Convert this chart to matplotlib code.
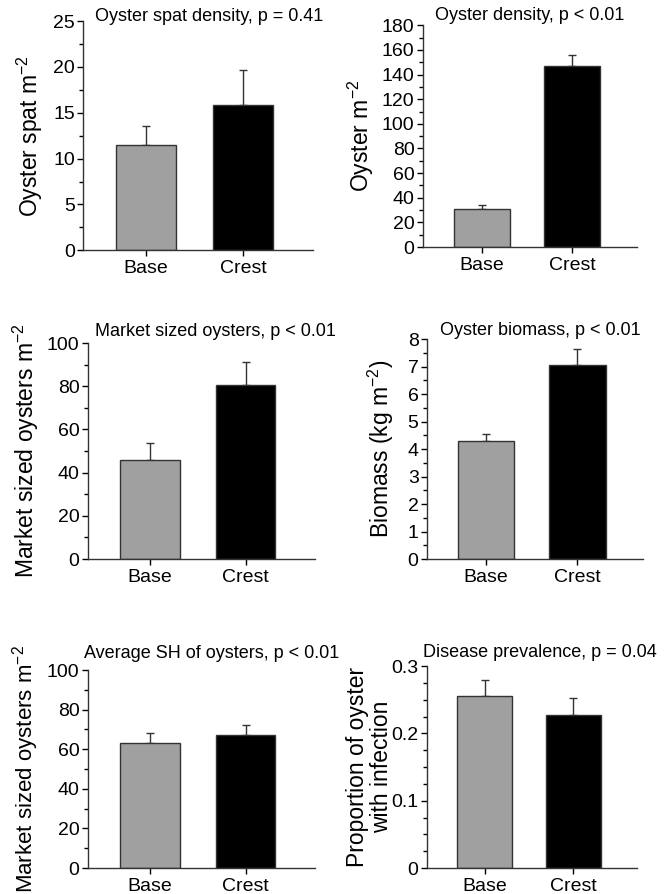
import matplotlib
matplotlib.use("Agg")
from matplotlib import pyplot as plt
from matplotlib.ticker import MultipleLocator, FormatStrFormatter

plt.rcParams['font.family'] = ['Liberation Sans', 'DejaVu Sans']
plt.rcParams['mathtext.fontset'] = 'custom'
plt.rcParams['mathtext.rm'] = 'Liberation Sans'

groups = ['Base', 'Crest']

spat_mean = [11.5, 15.8]
spat_err = [2.0, 3.9]
density_mean = [31, 147]
density_err = [3, 9]
market_mean = [46, 80.5]
market_err = [7.5, 10.5]
biomass_mean = [4.28, 7.05]
biomass_err = [0.27, 0.6]
sh_mean = [63, 67]
sh_err = [5, 5]
disease_mean = [0.255, 0.228]
disease_err = [0.024, 0.024]

colors = ['#a0a0a0', '#000000']

# rect, means, errs, ymax, major, minor, ylabel, label size, labelpad, title, title x, title y, title ha
panels = [
	([0.125, 0.720, 0.346, 0.2565], spat_mean, spat_err, 25, 5, 2.5,
	 'Oyster spat m$^{-2}$', 16.5, 6, 'Oyster spat density, p = 0.41', 0.05, 1.02, 'left'),
	([0.636, 0.7237, 0.322, 0.248], density_mean, density_err, 180, 20, 10,
	 'Oyster m$^{-2}$', 16.5, 4, 'Oyster density, p < 0.01', 0.5, 1.045, 'center'),
	([0.132, 0.3747, 0.341, 0.2416], market_mean, market_err, 100, 20, 10,
	 'Market sized oysters m$^{-2}$', 16.5, 4, 'Market sized oysters, p < 0.01', 0.03, 1.055, 'left'),
	([0.642, 0.3747, 0.325, 0.246], biomass_mean, biomass_err, 8, 1, 0.5,
	 'Biomass (kg m$^{-2}$)', 16.5, 8, 'Oyster biomass, p < 0.01', 0.06, 1.04, 'left'),
	([0.132, 0.029, 0.341, 0.2215], sh_mean, sh_err, 100, 20, 10,
	 'Market sized oysters m$^{-2}$', 16, 4, 'Average SH of oysters, p < 0.01', -0.015, 1.085, 'left'),
	([0.642, 0.029, 0.316, 0.226], disease_mean, disease_err, 0.3, 0.1, 0.025,
	 'Proportion of oyster\nwith infection', 16.5, -1, 'Disease prevalence, p = 0.04', -0.02, 1.065, 'left'),
]

fig = plt.figure(figsize=(6.65, 8.94), dpi=100)

for (rect, means, errs, ymax, major, minor, ylabel, lsize, lpad,
		title, tx, ty, tha) in panels:
	ax = fig.add_axes(rect)
	x = [0, 1]
	ax.bar(x, means, width=0.62, color=colors, edgecolor='#333333', linewidth=1, zorder=2)
	ax.errorbar(x, means, yerr=[[0, 0], errs], fmt='none', ecolor='#333333',
		elinewidth=1, capsize=3, capthick=1, zorder=1)
	ax.set_xlim(-0.65, 1.72)
	ax.set_ylim(0, ymax)
	ax.yaxis.set_major_locator(MultipleLocator(major))
	ax.yaxis.set_minor_locator(MultipleLocator(minor))
	ax.yaxis.set_major_formatter(FormatStrFormatter('%g'))
	ax.set_xticks(x)
	ax.set_xticklabels(groups, fontsize=14)
	ax.tick_params(axis='y', labelsize=14, length=4, width=1, pad=2)
	ax.tick_params(axis='y', which='minor', length=3, width=1)
	ax.tick_params(axis='x', length=4, width=1, pad=3)
	for s in ['top', 'right']:
		ax.spines[s].set_visible(False)
	for s in ['left', 'bottom']:
		ax.spines[s].set_linewidth(1)
		ax.spines[s].set_color('#333333')
	ax.set_ylabel(ylabel, fontsize=lsize, labelpad=lpad, linespacing=1.05)
	ax.text(tx, ty, title, transform=ax.transAxes, fontsize=13,
		ha=tha, va='center')

plt.savefig("out.png", dpi=100)
